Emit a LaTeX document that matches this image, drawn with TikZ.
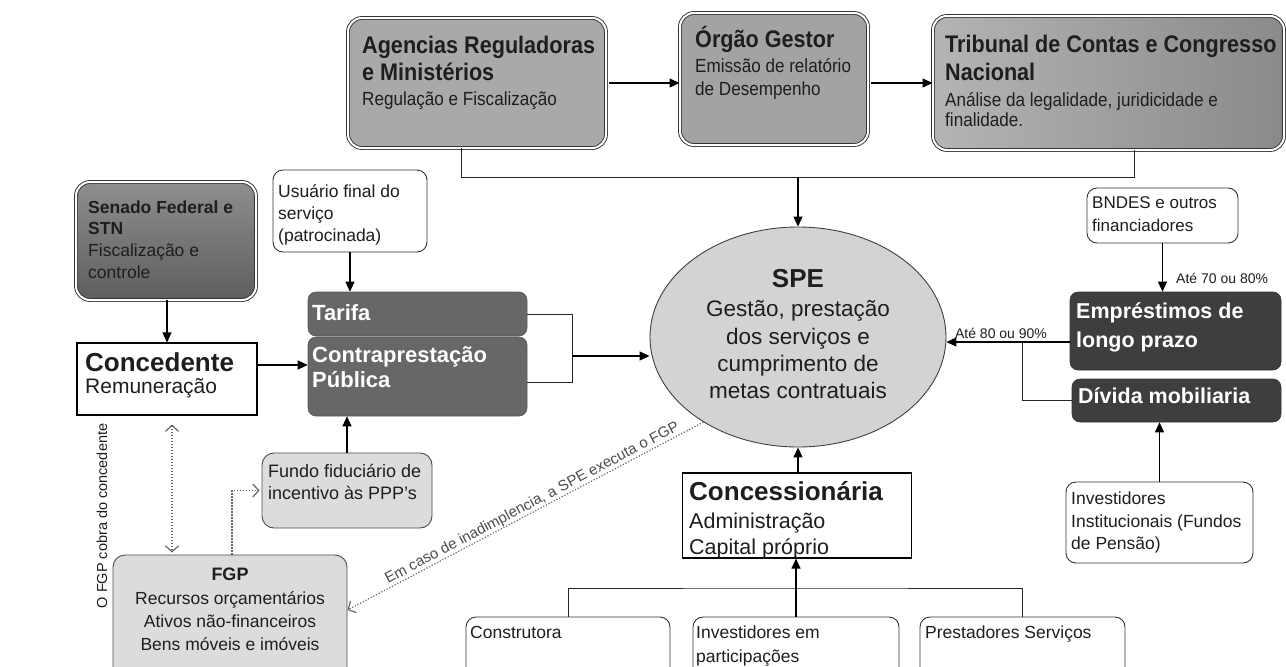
\documentclass[tikz,border=0pt]{standalone}
\usepackage{fontspec}
\setmainfont{Liberation Sans}
\newfontfamily\nf[FakeStretch=0.9]{Liberation Sans}
\usetikzlibrary{arrows.meta,shapes.geometric,calc}
\newcommand\fsz[1]{\fontsize{#1}{#1}\selectfont}
\definecolor{cA}{HTML}{A9A9A9}
\definecolor{cB}{HTML}{A3A3A3}
\definecolor{cCl}{HTML}{B4B4B4}
\definecolor{cCr}{HTML}{8A8A8A}
\definecolor{cSt}{HTML}{8E8E8E}
\definecolor{cSb}{HTML}{5E5E5E}
\definecolor{cDark}{HTML}{676767}
\definecolor{cDark2}{HTML}{3E3E3E}
\definecolor{cSPE}{HTML}{D3D3D3}
\definecolor{cLight}{HTML}{DCDCDC}
\definecolor{cTxt}{HTML}{1E1E1E}
\begin{document}
\begin{tikzpicture}[x=1pt,y=-1pt,
  arr/.style={draw=black, line width=1.1pt, -{Triangle[length=10pt,width=9pt]}},
  ln/.style={draw=black!85, line width=0.9pt},
  dotl/.style={draw=black!60, line width=1.2pt, dash pattern=on 1.2pt off 1.8pt},
  dotarr/.style={dotl, -{Straight Barb[length=6pt,width=13pt]}},
  topbox/.style={draw=black!80, double=white, double distance=2pt, line width=0.9pt, rounded corners=14pt},
  wbox/.style={draw=black!80, line width=0.9pt, rounded corners=10pt, fill=white},
  lbox/.style={draw=black!70, line width=0.9pt, rounded corners=12pt, fill=cLight},
  dbox/.style={fill=cDark, draw=cDark!85!black, line width=0.6pt, rounded corners=8pt},
  dboxb/.style={fill=cDark2, draw=cDark2!85!black, line width=0.6pt, rounded corners=8pt},
  rbox/.style={draw=black, line width=1.1pt, fill=white},
  t/.style={anchor=base west, inner sep=0pt, text=cTxt},
  ttl/.style={t, font={\nf\fsz{24}\bfseries}},
  sub/.style={t, font={\nf\fsz{19}}},
  wt/.style={anchor=base west, inner sep=0pt, text=white, font={\fsz{22}\bfseries}},
]
\useasboundingbox (0,0) rectangle (1286,667);
\clip (0,0) rectangle (1286,667);
\fill[white] (0,0) rectangle (1286,667);

% ---------- top row ----------
\node[topbox, fill=cA, minimum width=258pt, minimum height=130pt] (A) at (477,83) {};
\node[topbox, fill=cB, minimum width=188pt, minimum height=132pt] (B) at (774,79) {};
\node[topbox, left color=cCl, right color=cCr, minimum width=351pt, minimum height=134pt] (C) at (1108.5,83) {};

\node[ttl] (A1) at (362,53.5) {Agencias Reguladoras};
\node[ttl] (A2) at (362,80.5) {e Ministérios};
\node[sub] (A3) at (362,105.5) {Regulação e Fiscalização};
\node[ttl] (B1) at (695,47) {Órgão Gestor};
\node[sub] (B2) at (695,72) {Emissão de relatório};
\node[sub] (B3) at (695,95) {de Desempenho};
\node[ttl] (C1) at (945,52) {Tribunal de Contas e Congresso};
\node[ttl] (C2) at (945,80) {Nacional};
\node[sub] (C3) at (945,106) {Análise da legalidade, juridicidade e};
\node[sub] (C4) at (945,126) {finalidade.};

\draw[arr, shorten <=3pt] (A.east) -- (B.west |- A.east);
\draw[arr, shorten <=3pt] (B.east |- A.east) -- (C.west |- A.east);

% ---------- SPE ----------
\node[ellipse, draw=black!75, line width=0.9pt, fill=cSPE, minimum width=296pt, minimum height=220pt, inner sep=0pt] (SPE) at (798,337) {};
\node[anchor=base, inner sep=0pt, text=cTxt, font={\fsz{26}\bfseries}] (S1) at (798,287) {SPE};
\node[anchor=base, inner sep=0pt, text=cTxt, font=\fsz{22.5}] (S2) at (798,316) {Gestão, prestação};
\node[anchor=base, inner sep=0pt, text=cTxt, font=\fsz{22.5}] (S3) at (798,344) {dos serviços e};
\node[anchor=base, inner sep=0pt, text=cTxt, font=\fsz{22.5}] (S4) at (798,371) {cumprimento de};
\node[anchor=base, inner sep=0pt, text=cTxt, font=\fsz{22.5}] (S5) at (798,398) {metas contratuais};

\coordinate (jL) at (461,177);
\coordinate (jR) at (1134,177);
\coordinate (jM) at (798,177);
\draw[ln] (A.south -| jL) -- (jL) -- (jR) -- (C.south -| jR);
\draw[arr] (jM) -- (SPE.north);

% ---------- left side ----------
\node[topbox, top color=cSt, bottom color=cSb, minimum width=180pt, minimum height=118pt] (Sen) at (166,241) {};
\node[t, font={\fsz{17.5}\bfseries}] (Sen1) at (88,213) {Senado Federal e};
\node[t, font={\fsz{17.5}\bfseries}] (Sen2) at (88,234) {STN};
\node[t, font=\fsz{17.5}] (Sen3) at (88,256) {Fiscalização e};
\node[t, font=\fsz{17.5}] (Sen4) at (88,278) {controle};

\node[rbox, minimum width=180pt, minimum height=72pt] (Conc) at (167,379) {};
\node[t, font={\fsz{26}\bfseries}] (Co1) at (85,371) {Concedente};
\node[t, font=\fsz{21}] (Co2) at (85,393) {Remuneração};
\draw[arr] (Sen.south -| Conc.north) -- (Conc.north);

\node[wbox, minimum width=154pt, minimum height=82pt] (Us) at (350,211) {};
\node[t, font=\fsz{17.5}] (Us1) at (278,197) {Usuário final do};
\node[t, font=\fsz{17.5}] (Us2) at (278,219) {serviço};
\node[t, font=\fsz{17.5}] (Us3) at (278,241) {(patrocinada)};

\node[dbox, minimum width=219pt, minimum height=44pt] (Tar) at (417.5,314) {};
\node[dbox, minimum width=219pt, minimum height=79pt] (Con) at (417.5,376.5) {};
\node[wt] (Tar1) at (312,320) {Tarifa};
\node[wt] (Con1) at (312,362) {Contraprestação};
\node[wt] (Con2) at (312,387) {Pública};

\draw[arr] (Us.south) -- (Tar.north -| Us.south);
\coordinate (yCC) at (0,365);
\draw[arr] (Conc.east |- yCC) -- (Con.west |- yCC);

\coordinate (jK) at (572,356);
\coordinate (yK) at (0,382);
\draw[ln] (Tar.east) -| (jK);
\draw[ln] (Con.east |- yK) -| (jK);
\draw[arr] (jK) -- (SPE.west |- jK);

\node[lbox, minimum width=170pt, minimum height=75pt] (Fu) at (347,490.5) {};
\node[t, font=\fsz{18}] (Fu1) at (268,477) {Fundo fiduciário de};
\node[t, font=\fsz{18}] (Fu2) at (268,499) {incentivo às PPP's};
\draw[arr] (Fu.north) -- (Con.south -| Fu.north);

\node[lbox, minimum width=234pt, minimum height=135pt] (FGP) at (230,622.5) {};
\node[anchor=base, inner sep=0pt, text=cTxt, font={\fsz{18}\bfseries}] (G1) at (230,580) {FGP};
\node[anchor=base, inner sep=0pt, text=cTxt, font=\fsz{17.5}] (G2) at (230,604) {Recursos orçamentários};
\node[anchor=base, inner sep=0pt, text=cTxt, font=\fsz{17.5}] (G3) at (230,627) {Ativos não-financeiros};
\node[anchor=base, inner sep=0pt, text=cTxt, font=\fsz{17.5}] (G4) at (230,650) {Bens móveis e imóveis};

\draw[dotl, {Straight Barb[length=6pt,width=13pt]}-{Straight Barb[length=6pt,width=13pt]}, shorten <=9pt, shorten >=2pt]
  ([xshift=5pt]Conc.south) -- ([xshift=5pt]Conc.south |- FGP.north);
\node[rotate=90, inner sep=0pt, text=cTxt, font=\fsz{14.5}] (Lv) at (102,516) {O FGP cobra do concedente};
\draw[dotarr, shorten >=2pt] ([xshift=2pt]FGP.north) |- (Fu.west);

\coordinate (yF) at (0,610);
\draw[dotarr] (SPE.222) -- node[sloped, above=0.5pt, pos=0.47, inner sep=0pt, text=black!70, font=\fsz{15}] (Lsp) {Em caso de inadimplencia, a SPE executa o FGP} (FGP.east |- yF);

% ---------- concessionaria ----------
\node[rbox, minimum width=229pt, minimum height=85pt] (Cs) at (797,515.5) {};
\node[t, font={\fsz{26}\bfseries}] (Cs1) at (689,500) {Concessionária};
\node[t, font=\fsz{21.5}] (Cs2) at (689,528) {Administração};
\node[t, font=\fsz{21.5}] (Cs3) at (689,554) {Capital próprio};
\draw[arr] (Cs.north -| SPE.south) -- (SPE.south);

\node[wbox, minimum width=204pt, minimum height=90pt] (Ct) at (568,662) {};
\node[wbox, minimum width=206pt, minimum height=90pt] (IP) at (796,662) {};
\node[wbox, minimum width=205pt, minimum height=90pt] (Pr) at (1022.5,662) {};
\node[t, font=\fsz{17.5}] (Ct1) at (470,638) {Construtora};
\node[t, font=\fsz{17.5}] (IP1) at (696,638) {Investidores em};
\node[t, font=\fsz{17.5}] (IP2) at (696,662) {participações};
\node[t, font=\fsz{17.5}] (Pr1) at (925,638) {Prestadores Serviços};

\coordinate (jC) at (796,588);
\draw[ln] (Ct.north) |- (jC) -| (Pr.north);
\draw[arr] (IP.north) -- (Cs.south -| IP.north);

% ---------- right side ----------
\node[wbox, minimum width=151pt, minimum height=55pt] (BN) at (1162.5,215.5) {};
\node[t, font=\fsz{17}] (BN1) at (1092,208) {BNDES e outros};
\node[t, font=\fsz{17}] (BN2) at (1092,231) {financiadores};

\node[dboxb, minimum width=211pt, minimum height=78pt] (Em) at (1175.5,331) {};
\node[dboxb, minimum width=209pt, minimum height=43pt] (Dv) at (1176.5,400.5) {};
\node[wt, font={\fsz{21.5}\bfseries}] (Em1) at (1076,318) {Empréstimos de};
\node[wt, font={\fsz{21.5}\bfseries}] (Em2) at (1076,347) {longo prazo};
\node[wt, font={\fsz{21.5}\bfseries}] (Dv1) at (1078,403.5) {Dívida mobiliaria};

\draw[arr] (BN.south) -- (Em.north -| BN.south);
\node[t, font=\fsz{14}] (L70) at (1176,283) {Até 70 ou 80\%};

\coordinate (yE) at (0,342);
\draw[arr] (Em.west |- yE) -- (SPE.east |- yE);
\node[anchor=base, inner sep=0pt, text=cTxt, font=\fsz{14}] (L80) at (1001,338) {Até 80 ou 90\%};
\coordinate (jD) at (1022,342);
\draw[ln] (jD) |- (Dv.west);

\node[wbox, minimum width=187pt, minimum height=81pt] (IN) at (1159.5,522.5) {};
\node[t, font=\fsz{17.5}] (IN1) at (1071,504) {Investidores};
\node[t, font=\fsz{17.5}] (IN2) at (1071,527) {Institucionais (Fundos};
\node[t, font=\fsz{17.5}] (IN3) at (1071,549) {de Pensão)};
\draw[arr] (IN.north) -- (Dv.south -| IN.north);
\end{tikzpicture}
\end{document}
